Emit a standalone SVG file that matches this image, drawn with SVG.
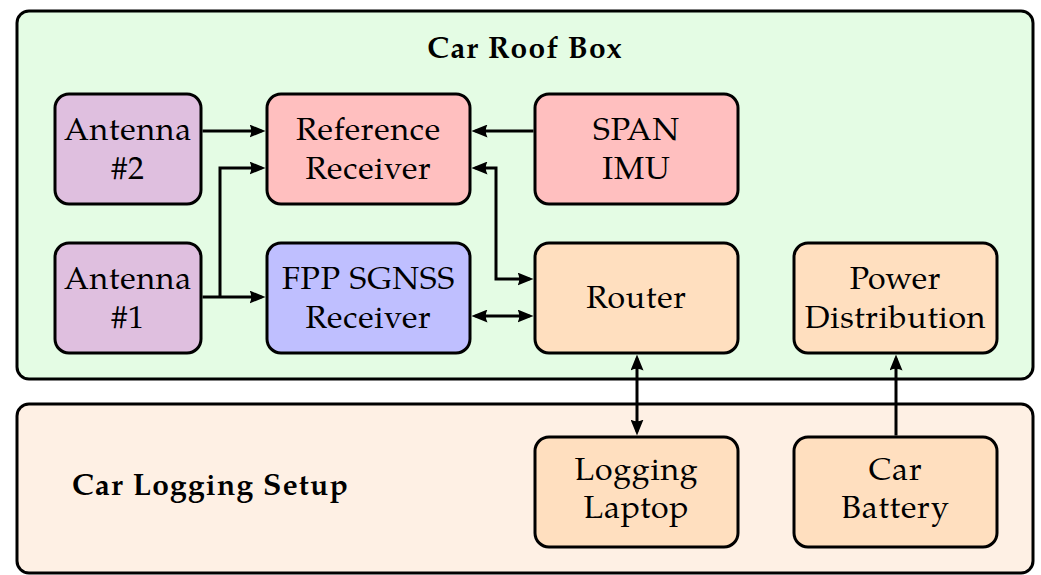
<svg xmlns="http://www.w3.org/2000/svg" width="1041" height="575" viewBox="0 0 1041 575">
  <style>
    .box { stroke: #000; stroke-width: 3; }
    .node rect { stroke: #000; stroke-width: 3; }
    .lbl { font-family: "TeX Gyre Pagella", "Palatino Linotype", "Liberation Serif", serif; font-size: 32px; letter-spacing: 0.8px; text-anchor: middle; fill: #000; }
    .title { font-family: "TeX Gyre Pagella", "Palatino Linotype", "Liberation Serif", serif; font-size: 30px; font-weight: bold; letter-spacing: 1.2px; fill: #000; }
    .wire { fill: none; stroke: #000; stroke-width: 3; }
    .one { marker-end: url(#head); }
    .two { marker-start: url(#head); marker-end: url(#head); }
    .purple { fill: #dfbfdf; }
    .red { fill: #ffbfbf; }
    .blue { fill: #bfbfff; }
    .orange { fill: #ffdfbf; }
  </style>
  <defs>
    <marker id="head" viewBox="0 0 16 13" refX="12" refY="6.5" markerWidth="16" markerHeight="13" markerUnits="userSpaceOnUse" orient="auto-start-reverse">
      <path d="M0,0 L16,6.5 L0,13 Q3.5,6.5 0,0 Z" fill="#000"/>
    </marker>
  </defs>

  <rect width="1041" height="575" fill="#fff"/>

  <!-- containers -->
  <g id="roof-box">
    <rect class="box" x="17" y="11" width="1016" height="368" rx="12" fill="#e4fce4"/>
    <text class="title" x="525" y="58" text-anchor="middle">Car Roof Box</text>
  </g>
  <g id="logging-setup">
    <rect class="box" x="17" y="404" width="1016" height="169" rx="12" fill="#fef0e4"/>
    <text class="title" x="72" y="495">Car Logging Setup</text>
  </g>

  <!-- nodes -->
  <g id="antenna2" class="node">
    <rect class="purple" x="55" y="94" width="146" height="110" rx="14"/>
    <text class="lbl" x="128" y="140">Antenna</text>
    <text class="lbl" x="128" y="179">#2</text>
  </g>
  <g id="ref-receiver" class="node">
    <rect class="red" x="267" y="94" width="203" height="110" rx="14"/>
    <text class="lbl" x="368.5" y="140">Reference</text>
    <text class="lbl" x="368.5" y="179">Receiver</text>
  </g>
  <g id="span-imu" class="node">
    <rect class="red" x="535" y="94" width="203" height="110" rx="14"/>
    <text class="lbl" x="636.5" y="140">SPAN</text>
    <text class="lbl" x="636.5" y="179">IMU</text>
  </g>
  <g id="antenna1" class="node">
    <rect class="purple" x="55" y="243" width="146" height="110" rx="14"/>
    <text class="lbl" x="128" y="289">Antenna</text>
    <text class="lbl" x="128" y="328">#1</text>
  </g>
  <g id="fpp-receiver" class="node">
    <rect class="blue" x="267" y="243" width="203" height="110" rx="14"/>
    <text class="lbl" x="368.5" y="289">FPP SGNSS</text>
    <text class="lbl" x="368.5" y="328">Receiver</text>
  </g>
  <g id="router" class="node">
    <rect class="orange" x="535" y="243" width="203" height="110" rx="14"/>
    <text class="lbl" x="636.5" y="308">Router</text>
  </g>
  <g id="power-distribution" class="node">
    <rect class="orange" x="794" y="243" width="203" height="110" rx="14"/>
    <text class="lbl" x="895.5" y="289">Power</text>
    <text class="lbl" x="895.5" y="328">Distribution</text>
  </g>
  <g id="logging-laptop" class="node">
    <rect class="orange" x="535" y="437" width="203" height="110" rx="14"/>
    <text class="lbl" x="636.5" y="480">Logging</text>
    <text class="lbl" x="636.5" y="518">Laptop</text>
  </g>
  <g id="car-battery" class="node">
    <rect class="orange" x="794" y="437" width="203" height="110" rx="14"/>
    <text class="lbl" x="895.5" y="480">Car</text>
    <text class="lbl" x="895.5" y="518">Battery</text>
  </g>

  <!-- connectors -->
  <g id="connectors">
    <path class="wire one" d="M202.5,131 H261.5"/>
    <path class="wire one" d="M202.5,297 H261.5"/>
    <path class="wire one" d="M220,297 V168 H261.5"/>
    <path class="wire one" d="M533.5,131 H475.5"/>
    <path class="wire two" d="M529.5,279 H496 V168 H475.5"/>
    <path class="wire two" d="M475.5,316 H529.5"/>
    <path class="wire two" d="M637,358.5 V431.5"/>
    <path class="wire one" d="M896,435.5 V358.5"/>
  </g>
</svg>
